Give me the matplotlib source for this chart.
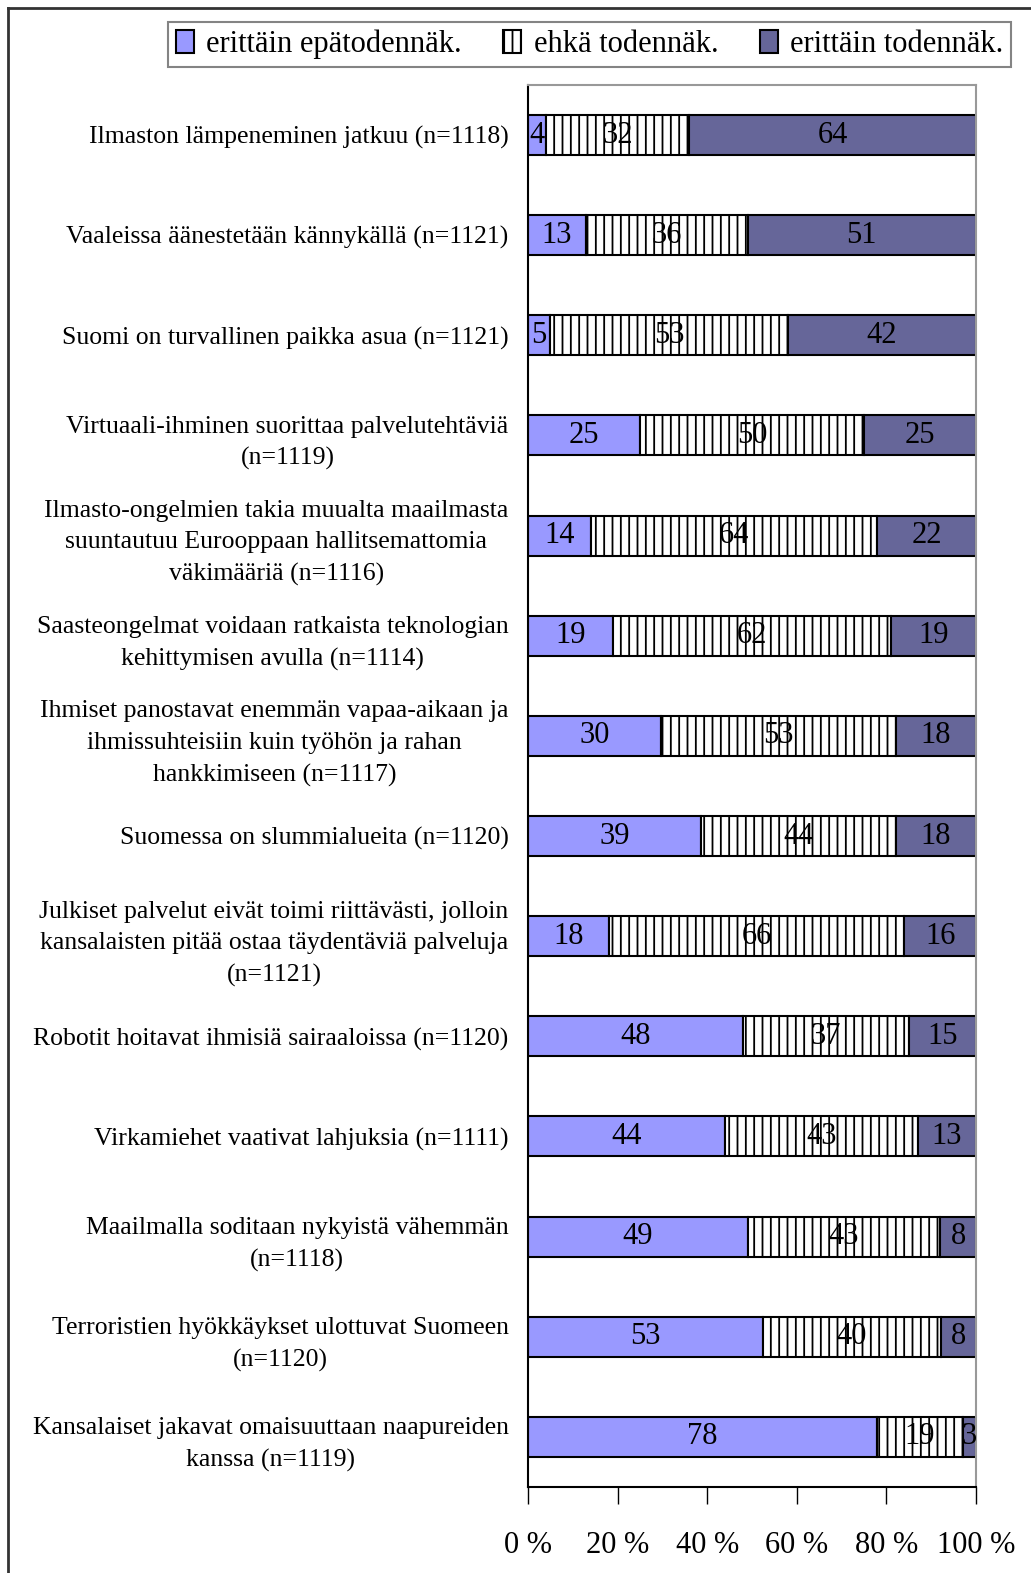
import numpy as np
import matplotlib
matplotlib.use("Agg")
import matplotlib.pyplot as plt
from matplotlib.lines import Line2D

plt.rcParams['font.family'] = ['Liberation Serif', 'DejaVu Serif']
plt.rcParams['hatch.linewidth'] = 1.3

# data
categories = [
    "Ilmaston lämpeneminen jatkuu (n=1118)",
    "Vaaleissa äänestetään kännykällä (n=1121)",
    "Suomi on turvallinen paikka asua (n=1121)",
    "Virtuaali-ihminen suorittaa palvelutehtäviä\n(n=1119)",
    "Ilmasto-ongelmien takia muualta maailmasta\nsuuntautuu Eurooppaan hallitsemattomia\nväkimääriä (n=1116)",
    "Saasteongelmat voidaan ratkaista teknologian\nkehittymisen avulla (n=1114)",
    "Ihmiset panostavat enemmän vapaa-aikaan ja\nihmissuhteisiin kuin työhön ja rahan\nhankkimiseen (n=1117)",
    "Suomessa on slummialueita (n=1120)",
    "Julkiset palvelut eivät toimi riittävästi, jolloin\nkansalaisten pitää ostaa täydentäviä palveluja\n(n=1121)",
    "Robotit hoitavat ihmisiä sairaaloissa (n=1120)",
    "Virkamiehet vaativat lahjuksia (n=1111)",
    "Maailmalla soditaan nykyistä vähemmän\n(n=1118)",
    "Terroristien hyökkäykset ulottuvat Suomeen\n(n=1120)",
    "Kansalaiset jakavat omaisuuttaan naapureiden\nkanssa (n=1119)",
]
epatod = [4, 13, 5, 25, 14, 19, 30, 39, 18, 48, 44, 49, 53, 78]
ehka = [32, 36, 53, 50, 64, 62, 53, 44, 66, 37, 43, 43, 40, 19]
todennak = [64, 51, 42, 25, 22, 19, 18, 18, 16, 15, 13, 8, 8, 3]
series_names = ["erittäin epätodennäk.", "ehkä todennäk.", "erittäin todennäk."]
xticks = [0, 20, 40, 60, 80, 100]
xticklabels = ["0 %", "20 %", "40 %", "60 %", "80 %", "100 %"]

raw = np.array([epatod, ehka, todennak], dtype=float)
shares = raw / raw.sum(axis=0) * 100  # 100 % pinottu

fig = plt.figure(figsize=(10.31, 15.73), dpi=100)
ax = fig.add_axes([0.5121, 0.0547, 0.4346, 0.8913])

y = np.arange(len(categories))
styles = [
    dict(color="#9999ff", hatch=None),
    dict(color="white", hatch="||"),
    dict(color="#666699", hatch=None),
]
left = np.zeros(len(categories))
for i in range(3):
    bars = ax.barh(y, shares[i], left=left, height=0.4,
                   color=styles[i]["color"], hatch=styles[i]["hatch"],
                   edgecolor="black", linewidth=1.5, label=series_names[i])
    ax.bar_label(bars, labels=[str(int(v)) for v in raw[i]],
                 label_type="center", fontsize=22, color="black")
    left += shares[i]

ax.set_xlim(0, 100)
ax.set_ylim(len(categories) - 0.5, -0.5)
ax.set_yticks(y)
ax.set_yticklabels(categories, fontsize=18.5, linespacing=1.55)
for t in ax.get_yticklabels():
    t.set_multialignment("center")
ax.tick_params(axis="y", length=0, pad=14)
ax.set_xticks(xticks)
ax.set_xticklabels(xticklabels, fontsize=22)
ax.tick_params(axis="x", length=12, width=1, pad=20, direction="out")

ax.spines["left"].set_color("black")
ax.spines["bottom"].set_color("black")
ax.spines["top"].set_color("#999999")
ax.spines["right"].set_color("#999999")
for s in ax.spines.values():
    s.set_linewidth(1.5)

leg = fig.legend(loc="upper left", bbox_to_anchor=(168 / 1031, 1 - 22 / 1573),
                 ncol=3, fontsize=22, frameon=True, fancybox=False,
                 handlelength=0.6, handleheight=0.8, handletextpad=0.4,
                 columnspacing=1.35, borderpad=0.25, borderaxespad=0)
leg.get_frame().set_edgecolor("#666666")
leg.get_frame().set_linewidth(1.5)

# ulkokehys (vasen ja ylä)
fig.add_artist(Line2D([8 / 1031, 8 / 1031], [0, 1 - 8 / 1573], color="#333333", lw=2))
fig.add_artist(Line2D([8 / 1031, 1], [1 - 8 / 1573, 1 - 8 / 1573], color="#333333", lw=2))

fig.savefig("out.png", dpi=100)
